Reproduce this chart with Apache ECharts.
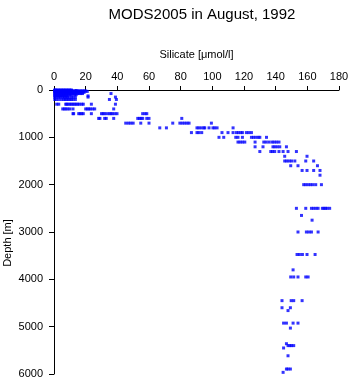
<!DOCTYPE html>
<html>
<head>
<meta charset="utf-8">
<script src="https://cdn.jsdelivr.net/npm/echarts@6/dist/echarts.min.js"></script>
<style>
  html, body { margin: 0; padding: 0; background: #fff; }
  #chart { width: 351px; height: 384px; }
</style>
</head>
<body>
<div id="chart"></div>
<script>
// standard depths (m) and the silicate values (umol/l) read at each depth
const depths = [
  0, 10, 20, 30, 50, 75, 100, 125, 150, 200,
  300, 400, 500, 600, 700, 800, 900, 1000, 1100, 1200,
  1300, 1400, 1500, 1600, 1700, 1800, 2000, 2500, 2650, 2750,
  3000, 3475, 3800, 3950, 4450, 4600, 4660, 4925, 5030, 5360,
  5400, 5450, 5615, 5895, 5965
];
const silicate = [
  [0.5, 1, 2, 3, 4, 5, 6, 7, 8, 9, 10, 11],
  [0.5, 1, 2, 3, 4, 5, 6, 7, 8, 9, 10, 11, 14],
  [0.5, 1, 2, 3, 4, 5, 6, 7, 8, 9, 10, 11, 12, 13, 14, 15, 16, 17, 18, 19, 20],
  [0.5, 1, 2, 3, 4, 5, 6, 7, 8, 9, 10, 11, 12, 13, 14, 15, 16, 17, 18, 19, 21],
  [0.5, 1, 2, 3, 4, 5, 6, 7, 8, 9, 10, 11, 12, 13, 14, 15, 16, 17, 18, 19],
  [0.5, 1, 2, 3, 4, 5, 6, 7, 8, 9, 10, 11, 12, 13, 14, 15, 16, 17, 18, 36],
  [0.5, 1, 2, 3, 4, 5, 6, 7, 8, 9, 10, 11, 13, 14],
  [0.5, 1.5, 2.5, 3.5, 4.5, 5.5, 6.5, 8, 21.5],
  [0.5, 1.5, 3, 4, 5.5, 6.5, 7.5, 8.5, 9.5, 11, 12, 13.5, 21.5, 38.8],
  [0.5, 1.5, 3, 4.7, 6.1, 7, 8, 9, 10, 11, 12, 13.5, 35, 39.4],
  [1.7, 3, 7.4, 8, 9, 10, 11, 12, 13, 14, 15, 16, 17.5, 18.5, 23.6, 38.8],
  [5.5, 6.5, 7.5, 8.7, 10, 12, 20, 21, 22, 23, 24.5, 25.7, 37.7],
  [12, 12.4, 15.6, 16.5, 17.5, 18.5, 23.6, 30, 31, 32, 33.5, 35, 36, 37, 38.5, 39.8, 56, 57.5, 58.6],
  [28.2, 29, 32, 33, 37.7, 52.9, 54, 55, 56, 58.6, 60, 80.7],
  [45.3, 47, 48.5, 50, 54.8, 60, 75, 79.5, 81, 82.5, 84, 85.3, 99.4],
  [66.8, 71, 90.3, 91.5, 93, 94.6, 95.2, 97.9, 100.4, 101.5, 103, 113.1],
  [86.8, 90.3, 91.5, 93.3, 106.1, 109.9, 113.1, 115.2, 116.5, 118, 119, 121.5, 123, 124.7],
  [104.2, 107.2, 114.8, 116.2, 119, 124.7, 126, 127.5, 129, 130, 134.2],
  [116.2, 117.5, 119, 120.5, 127, 132.5, 134, 135.8, 137.7, 139, 140.5, 142.1],
  [127, 132, 138.3, 139.5, 141, 142.6, 146.8],
  [130, 136.9, 138, 139.4, 142.1, 144.7, 147.8, 153.1],
  [145.7, 159.8],
  [145.7, 147, 148.5, 150, 152.1, 159, 164],
  [149.5, 154.1, 166.4],
  [156.7, 159.8, 164, 168],
  [168],
  [157.7, 159, 160.5, 162, 163.5, 165.3, 168.9],
  [153.1, 159, 162.6, 164, 165.5, 166.8, 169.5, 170.5, 171.5, 172.5, 174.1],
  [156.3],
  [163],
  [154.1, 159.4, 161, 162.6, 166.8],
  [153.5, 155, 156.9, 159.8, 164.9],
  [151],
  [149.5, 151.4, 154.1, 159, 160.5],
  [144, 149.8, 151.4, 156.7],
  [144, 149.3],
  [147.8],
  [145, 146.8, 151, 154.1],
  [149.3],
  [146.8],
  [147.8, 149, 150, 151.4],
  [145],
  [147.8],
  [146.8, 147.8, 149.3],
  [144.7]
];

let points = [];
depths.forEach((d, i) => {
  silicate[i].forEach((s) => points.push([s, d]));
});

let font = "'Liberation Sans', Arial, Helvetica, sans-serif";
let myChart = echarts.init(document.getElementById("chart"));
myChart.setOption({
  animation: false,
  title: {
    text: "MODS2005 in August, 1992",
    left: 197,
    top: 2,
    textAlign: "center",
    textStyle: { fontFamily: font, fontSize: 15, fontWeight: "normal", color: "#000" },
  },
  grid: { left: 54, right: 12, top: 90, bottom: 10, containLabel: false, outerBoundsMode: "none" },
  xAxis: {
    type: "value",
    position: "top",
    min: 0,
    max: 180,
    interval: 20,
    name: "Silicate [\u03bcmol/l]",
    nameLocation: "middle",
    nameGap: 30,
    nameMoveOverlap: false,
    nameTextStyle: { fontFamily: font, fontSize: 11, color: "#000" },
    axisLine: { lineStyle: { color: "#000", width: 1 } },
    axisTick: { length: 4, lineStyle: { color: "#000" } },
    axisLabel: { fontFamily: font, fontSize: 11, color: "#000", margin: 8 },
    splitLine: { show: false },
  },
  yAxis: {
    type: "value",
    inverse: true,
    min: 0,
    max: 6000,
    interval: 1000,
    name: "Depth [m]",
    nameLocation: "middle",
    nameGap: 41,
    nameMoveOverlap: false,
    nameTextStyle: { fontFamily: font, fontSize: 11, color: "#000", padding: [0, 22, 0, 0] },
    axisLine: { lineStyle: { color: "#000", width: 1 } },
    axisTick: { length: 5, lineStyle: { color: "#000" } },
    axisLabel: {
      fontFamily: font, fontSize: 11, color: "#000", margin: 11,
      formatter: (v) => String(v),
    },
    splitLine: { show: false },
  },
  series: [
    {
      type: "scatter",
      data: points,
      symbol: "rect",
      symbolSize: 3,
      itemStyle: { color: "#0000ff" },
    },
  ],
});
</script>
</body>
</html>
